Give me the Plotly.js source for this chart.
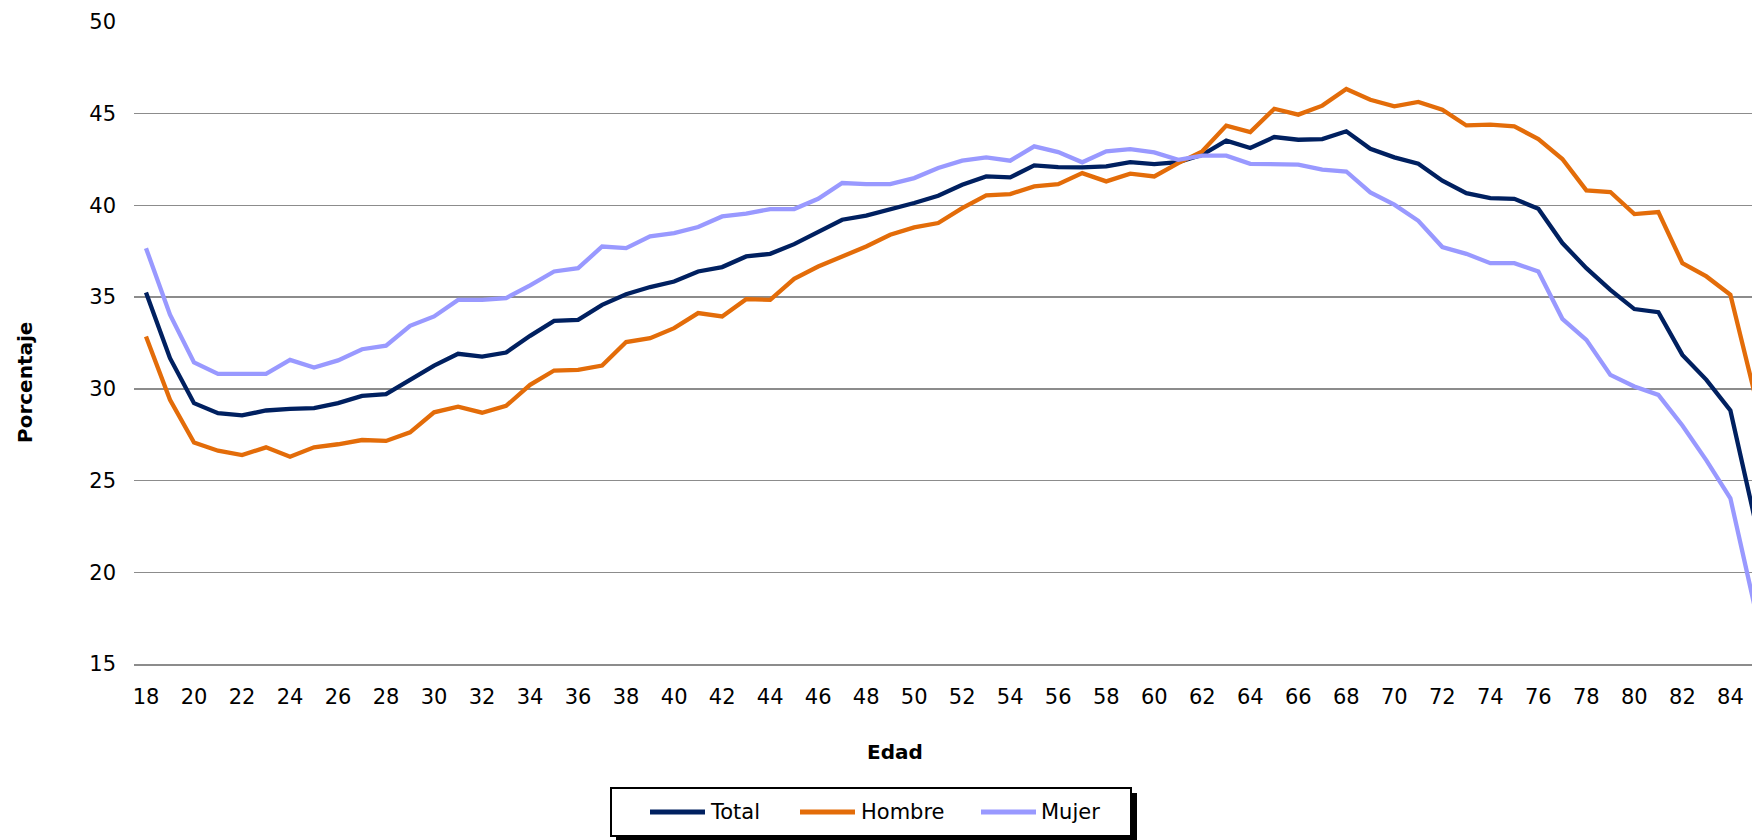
<!DOCTYPE html>
<html>
<head>
<meta charset="utf-8">
<script src="https://cdn.plot.ly/plotly-3.0.1.min.js"></script>
<style>html,body{margin:0;padding:0;background:#fff;overflow:hidden}</style>
</head>
<body>
<div id="chart" style="width:1752px;height:840px"></div>
<script>
const edad = [18,19,20,21,22,23,24,25,26,27,28,29,30,31,32,33,34,35,36,37,38,39,40,41,42,43,44,45,46,47,48,49,50,51,52,53,54,55,56,57,58,59,60,61,62,63,64,65,66,67,68,69,70,71,72,73,74,75,76,77,78,79,80,81,82,83,84,85];
const total = [35.25,31.67,29.22,28.67,28.55,28.82,28.91,28.95,29.22,29.62,29.71,30.49,31.27,31.91,31.76,31.98,32.89,33.71,33.76,34.58,35.16,35.55,35.85,36.40,36.64,37.22,37.36,37.89,38.55,39.22,39.44,39.76,40.13,40.53,41.13,41.58,41.53,42.18,42.09,42.07,42.13,42.36,42.25,42.36,42.76,43.53,43.13,43.73,43.58,43.62,44.04,43.09,42.62,42.27,41.35,40.67,40.40,40.36,39.82,37.95,36.58,35.40,34.35,34.18,31.85,30.49,28.82,23.0];
const hombre = [32.85,29.40,27.07,26.63,26.39,26.81,26.30,26.81,26.98,27.21,27.16,27.63,28.72,29.03,28.70,29.07,30.22,31.00,31.04,31.27,32.55,32.76,33.31,34.13,33.95,34.89,34.85,36.00,36.67,37.22,37.76,38.40,38.80,39.04,39.85,40.55,40.62,41.04,41.16,41.76,41.31,41.73,41.58,42.31,42.95,44.35,44.00,45.27,44.95,45.44,46.35,45.76,45.40,45.64,45.22,44.36,44.40,44.31,43.62,42.53,40.82,40.73,39.53,39.64,36.85,36.13,35.13,29.8];
const mujer = [37.67,34.04,31.44,30.82,30.82,30.82,31.58,31.16,31.55,32.16,32.35,33.44,33.95,34.85,34.85,34.95,35.64,36.40,36.58,37.76,37.67,38.31,38.49,38.82,39.40,39.55,39.80,39.80,40.36,41.22,41.16,41.16,41.49,42.04,42.44,42.62,42.44,43.22,42.91,42.35,42.95,43.07,42.89,42.49,42.71,42.71,42.27,42.25,42.22,41.95,41.85,40.71,40.04,39.16,37.73,37.36,36.85,36.85,36.40,33.82,32.67,30.76,30.13,29.67,28.0,26.1,24.03,18.2];
const seriesNames = ['Total','Hombre','Mujer'];
const seriesColors = ['#002060','#E36C09','#9999FF'];
const xTickVals = [18,20,22,24,26,28,30,32,34,36,38,40,42,44,46,48,50,52,54,56,58,60,62,64,66,68,70,72,74,76,78,80,82,84];
const yTickVals = [15,20,25,30,35,40,45,50];
const xTitle = 'Edad';
const yTitle = 'Porcentaje';

const seriesValues = [total, hombre, mujer];
const data = seriesValues.map((vals, i) => ({
  x: edad, y: vals, type: 'scatter', mode: 'lines', name: seriesNames[i],
  line: {color: seriesColors[i], width: 4.3}, hoverinfo: 'skip'
}));

// layout geometry (pixels)
const L = 134, T = 22, PW = 1618, PH = 642;
const px = x => (x - L) / PW;
const py = y => (T + PH - y) / PH;

const legLineStart = [650, 800, 981];
const legTextStart = [708, 859, 1039];
const legY = 812;

const shapes = [
  {type:'rect', xref:'paper', yref:'paper', x0:px(616), x1:px(1137), y0:py(840), y1:py(793), fillcolor:'#000', line:{width:0}},
  {type:'rect', xref:'paper', yref:'paper', x0:px(611), x1:px(1131), y0:py(836), y1:py(788), fillcolor:'#fff', line:{color:'#000', width:2}}
];
const annotations = [
  {text: yTitle, xref:'paper', yref:'paper', x:px(25), y:py(383), textangle:-90, showarrow:false, xanchor:'center', yanchor:'middle', font:{size:20, weight:'bold', color:'#000'}},
  {text: xTitle, xref:'paper', yref:'paper', x:px(895), y:py(752), showarrow:false, xanchor:'center', yanchor:'middle', font:{size:20, weight:'bold', color:'#000'}}
];
seriesNames.forEach((n, i) => {
  shapes.push({type:'line', xref:'paper', yref:'paper', x0:px(legLineStart[i]), x1:px(legLineStart[i]+55), y0:py(legY), y1:py(legY), line:{color:seriesColors[i], width:5}});
  annotations.push({text:n, xref:'paper', yref:'paper', x:px(legTextStart[i]), y:py(legY), showarrow:false, xanchor:'left', yanchor:'middle', font:{size:21, color:'#000'}});
});

const layout = {
  width: 1752, height: 840,
  margin: {l: L, r: 0, t: T, b: 840 - T - PH, pad: 0},
  paper_bgcolor: '#fff', plot_bgcolor: '#fff',
  font: {family: 'DejaVu Sans, Verdana, sans-serif', size: 21, color: '#000'},
  showlegend: false,
  xaxis: {range: [17.5, 84.9], tickmode: 'array', tickvals: xTickVals, ticktext: xTickVals.map(String),
          showgrid: false, zeroline: false, showline: true, linecolor: '#8c8c8c', linewidth: 1.5,
          ticks: '', ticklabelstandoff: 13, tickfont: {size: 21, color: '#000'}},
  yaxis: {range: [15, 50], tickmode: 'array', tickvals: yTickVals, ticktext: yTickVals.map(String),
          showgrid: true, gridcolor: '#8c8c8c', gridwidth: 1.5, zeroline: false, showline: false,
          ticks: '', ticklabelstandoff: 17, tickfont: {size: 21, color: '#000'}},
  shapes: shapes,
  annotations: annotations
};

Plotly.newPlot('chart', data, layout, {displayModeBar: false, staticPlot: true});
</script>
</body>
</html>
